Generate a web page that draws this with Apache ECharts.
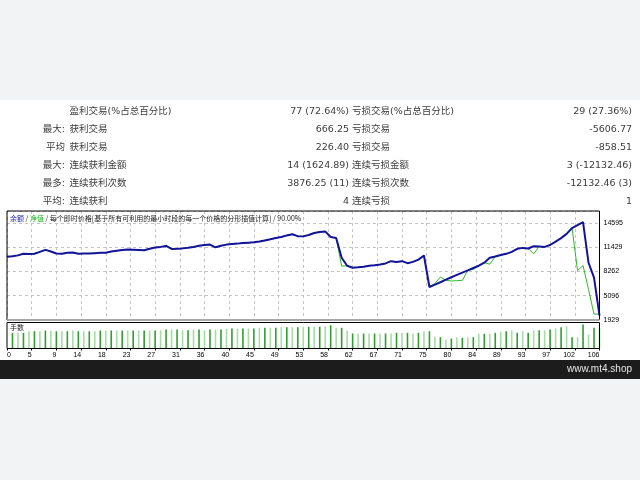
<!DOCTYPE html>
<html><head><meta charset="utf-8">
<script src="https://cdn.jsdelivr.net/npm/echarts/dist/echarts.min.js"></script>
<style>html,body{margin:0;padding:0;background:#f2f3f5}#c{width:640px;height:480px}</style>
</head><body><div id="c"></div>
<script>
const tableRows = [
  ['', '盈利交易(%占总百分比)', '77 (72.64%)', '亏损交易(%占总百分比)', '29 (27.36%)'],
  ['最大:', '获利交易', '666.25', '亏损交易', '-5606.77'],
  ['平均', '获利交易', '226.40', '亏损交易', '-858.51'],
  ['最大:', '连续获利金额', '14 (1624.89)', '连续亏损金额', '3 (-12132.46)'],
  ['最多:', '连续获利次数', '3876.25 (11)', '连续亏损次数', '-12132.46 (3)'],
  ['平均:', '连续获利', '4', '连续亏损', '1']
];
const legendParts = ['余额', '净值', '每个即时价格[基于所有可利用的最小时段的每一个价格的分形插值计算]', '90.00%'];
const volumeTitle = '手数';
const watermark = 'www.mt4.shop';
const xTickLabels = [0,5,9,14,18,23,27,31,36,40,45,49,53,58,62,67,71,75,80,84,89,93,97,102,106];
const yTickLabels = [1929, 5096, 8262, 11429, 14595];

// balance per trade number (0..108)
const balance = [
  10162,10240,10350,10550,10530,10560,10800,11066,10850,10600,
  10560,10700,10720,10560,10580,10600,10640,10680,10700,10850,
  10950,11050,11100,11080,11060,11015,11200,11380,11454,11583,
  11195,11200,11260,11350,11450,11600,11700,11750,11402,11600,
  11750,11820,11880,11950,12000,12050,12150,12300,12450,12620,
  12750,12950,13100,12850,12824,13000,13264,13400,13470,12746,
  12617,10032,9000,8740,8800,8870,9000,9050,9160,9300,
  9593,9500,9593,9335,9500,9800,10330,6233,6530,6850,
  7180,7500,7800,8100,8400,8700,9000,9400,10032,10200,
  10400,10550,10800,11200,11325,11250,11531,11500,11454,11700,
  12150,12600,13150,13909,14300,14685,9386,7448,2485
];
// equity per trade number (0..108)
const equity = [
  10162,10240,10350,10600,10530,10560,10800,11066,10850,10600,
  10560,10700,10720,10560,10580,10600,10640,10680,10700,10850,
  10950,11050,11100,11080,11060,11015,11200,11380,11454,11583,
  11195,11200,11260,11350,11450,11600,11700,11750,11402,11600,
  11750,11820,11880,11950,12000,12050,12150,12300,12450,12620,
  12750,12950,13100,12850,12824,13000,13264,13400,13470,12746,
  12617,8947,9000,8740,8800,8870,9000,9050,9160,9300,
  9593,9500,9593,9335,9500,9800,10330,6233,6700,7525,
  7100,7012,7050,7100,8400,8520,9000,9400,9200,10200,
  10400,10550,10800,11200,11325,11250,10550,11500,11454,11700,
  12150,12600,13150,13909,8360,9037,5900,2704,2704
];
// lots per trade number (1..108)
const lots = [
  0.157,0.157,0.157,0.173,0.173,0.173,0.18,0.18,0.173,0.173,
  0.173,0.18,0.173,0.173,0.173,0.173,0.18,0.18,0.18,0.18,
  0.18,0.18,0.18,0.18,0.18,0.18,0.18,0.183,0.19,0.19,
  0.19,0.183,0.183,0.19,0.19,0.183,0.19,0.19,0.19,0.197,
  0.20,0.20,0.20,0.20,0.20,0.207,0.207,0.207,0.207,0.213,
  0.213,0.213,0.213,0.217,0.217,0.217,0.217,0.223,0.233,0.207,
  0.207,0.18,0.15,0.147,0.15,0.15,0.15,0.147,0.15,0.15,
  0.157,0.157,0.157,0.15,0.157,0.173,0.173,0.12,0.113,0.09,
  0.10,0.113,0.107,0.113,0.113,0.147,0.147,0.147,0.157,0.167,
  0.173,0.18,0.157,0.173,0.157,0.18,0.183,0.183,0.19,0.20,
  0.213,0.223,0.113,0.113,0.24,0.14,0.207,0.207
];
// bar shade per trade: 1 = dark green, 0 = light green
const lotShade = [
  1,0,1,0,1,0,1,0,1,0,1,0,1,0,1,0,1,0,1,0,
  1,0,1,0,1,0,1,0,1,0,1,0,1,0,1,0,1,0,1,0,
  1,0,1,0,1,0,1,0,1,0,1,0,1,0,1,0,1,0,1,0,
  1,0,1,0,1,0,1,0,1,0,1,0,1,0,1,0,1,0,1,0,
  1,0,1,0,1,0,1,0,1,0,1,0,1,0,1,0,1,0,1,0,
  1,0,1,0,1,0,1,0
];

const chart = echarts.init(document.getElementById('c'));
const FONT = '"Noto Sans CJK SC", "Liberation Sans", sans-serif';
const TFONT = '"DejaVu Sans", "Noto Sans CJK SC", sans-serif';
const L = 7, R = 599.5, T0 = 211, B0 = 320, T1 = 322.5, B1 = 348.5;
const graphics = [
  {type:'rect', shape:{x:0,y:100,width:640,height:260}, style:{fill:'#ffffff'}, z:-10},
  {type:'rect', shape:{x:0,y:360,width:640,height:19}, style:{fill:'#1c1c1c'}, z:-10},
  {type:'text', x:632, y:369.5, style:{text:watermark, fill:'#e6e6e6', font:'10px "Liberation Sans", Arial, sans-serif', textAlign:'right', textVerticalAlign:'middle'}},
  // solid frame edges drawn above the dashed grid lines
  {type:'polyline', z:50, shape:{points:[[L,B0],[L,T0],[R,T0],[R,B0]]}, style:{stroke:'#000', lineWidth:1, fill:null}},
  {type:'line', shape:{x1:L,y1:B0,x2:R,y2:B0}, style:{stroke:'#a8a8a8', lineWidth:2}, z:50},
  {type:'rect', z:50, shape:{x:L,y:T1,width:R-L,height:B1-T1}, style:{stroke:'#000', lineWidth:1, fill:null}},
  {type:'text', x:10, y:218, z:60, style:{
    text:'{b|'+legendParts[0]+'} / {g|'+legendParts[1]+'} / '+legendParts[2]+' / '+legendParts[3],
    font:'7px '+FONT, fill:'#222', textVerticalAlign:'middle',
    rich:{b:{fill:'#1a1aa8', font:'7px '+FONT}, g:{fill:'#1fb51f', font:'7px '+FONT}}
  }},
  {type:'text', x:10, y:327.5, z:60, style:{text:volumeTitle, font:'7px '+FONT, fill:'#222', textVerticalAlign:'middle'}}
];
const colX = [65, 69.5, 349, 352, 632];
const colAlign = ['right','left','right','left','right'];
tableRows.forEach((row, r) => {
  row.forEach((cell, c) => {
    if (!cell) return;
    graphics.push({type:'text', x:colX[c], y:111.5 + 18*r, style:{
      text:cell, fill:'#3c3c3c', font:'9.5px '+TFONT, textAlign:colAlign[c], textVerticalAlign:'middle'}});
  });
});

const yInterval = yTickLabels[1] - yTickLabels[0] - 0.5;
const dashed = {show:true, lineStyle:{color:'#c4c4c4', type:[3,3], width:1}};
chart.setOption({
  backgroundColor:'#f2f3f5',
  animation:false,
  graphic:graphics,
  grid:[
    {left:L, right:640-R, top:T0, height:B0-T0, show:true, borderColor:'#000', borderWidth:0, backgroundColor:'#fff'},
    {left:L, right:640-R, top:T1, height:B1-T1, show:true, borderColor:'#000', borderWidth:0, backgroundColor:'#fff'}
  ],
  xAxis:[
    {type:'value', gridIndex:0, min:0, max:108, interval:4.5, axisLine:{show:false}, axisTick:{show:false}, axisLabel:{show:false}, splitLine:dashed},
    {type:'value', gridIndex:1, min:0, max:108, interval:4.5, axisLine:{show:false},
     axisTick:{show:true, length:2, lineStyle:{color:'#000'}}, splitLine:{show:false},
     axisLabel:{show:true, fontSize:7, color:'#000', fontFamily:'"Liberation Sans", Arial, sans-serif', margin:3, align:'right', alignMinLabel:'left', alignMaxLabel:'right',
       formatter:(v)=>String(xTickLabels[Math.round(v/4.5)])}}
  ],
  yAxis:[
    {type:'value', gridIndex:0, position:'right', min:yTickLabels[0], max:16130, interval:yInterval,
     axisLine:{show:false}, axisTick:{show:false}, splitLine:dashed,
     axisLabel:{fontSize:7, color:'#000', margin:4, fontFamily:'"Liberation Sans", Arial, sans-serif', showMaxLabel:false,
       formatter:(v)=>String(Math.round(v))}},
    {type:'value', gridIndex:1, min:0, max:0.26, show:false, splitLine:{show:false}}
  ],
  series:[
    {type:'line', xAxisIndex:0, yAxisIndex:0, data:equity.map((v,i)=>[i,v]), symbol:'none',
     lineStyle:{color:'#2db82d', width:1}, z:3},
    {type:'line', xAxisIndex:0, yAxisIndex:0, data:balance.map((v,i)=>[i,v]), symbol:'none',
     lineStyle:{color:'#14149a', width:2}, z:4},
    {type:'bar', xAxisIndex:1, yAxisIndex:1, barWidth:1.6,
     data:lots.map((v,i)=>({value:[i+1,v], itemStyle:{color: lotShade[i] ? '#2e9e2e' : '#a6dca6'}}))}
  ]
});
</script></body></html>
